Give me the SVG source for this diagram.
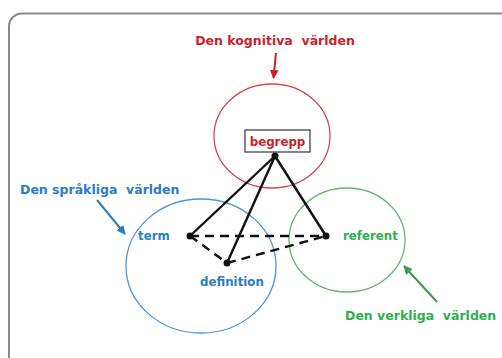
<svg xmlns="http://www.w3.org/2000/svg" width="502" height="358" viewBox="0 0 502 358">
<defs>
<style>
text{font-family:"DejaVu Sans",Verdana,sans-serif;font-weight:bold;font-size:11.8px}
.title{font-size:12.5px}
.red{fill:#cc1f2b}
.blue{fill:#2b7cc6}
.green{fill:#2fb04e}
.solid{stroke:#111;stroke-width:2.4;fill:none}
.dash{stroke:#111;stroke-width:2.4;fill:none;stroke-dasharray:9,6}
.dot{fill:#111}
</style>
<marker id="arR" viewBox="0 0 10 10" refX="9" refY="5" markerWidth="4.5" markerHeight="4.5" orient="auto"><path d="M0,0 L10,5 L0,10 z" fill="#cc1f2b"/></marker>
<marker id="arB" viewBox="0 0 10 10" refX="9" refY="5" markerWidth="4.5" markerHeight="4.5" orient="auto"><path d="M0,0 L10,5 L0,10 z" fill="#2b7cc6"/></marker>
<marker id="arG" viewBox="0 0 10 10" refX="9" refY="5" markerWidth="4.5" markerHeight="4.5" orient="auto"><path d="M0,0 L10,5 L0,10 z" fill="#3a9a48"/></marker>
</defs>
<rect x="0" y="0" width="502" height="358" fill="#fff"/>
<rect x="9" y="13.5" width="510" height="360" rx="13" fill="none" stroke="#8a8a8a" stroke-width="2"/>

<g id="kognitiva">
<ellipse cx="272" cy="136" rx="58" ry="52" fill="none" stroke="#d9474f" stroke-width="1.3"/>
<text x="275" y="45" text-anchor="middle" class="red title" xml:space="preserve">Den kognitiva  världen</text>
</g>
<g id="sprakliga">
<ellipse cx="201" cy="266" rx="75" ry="67" fill="none" stroke="#4a97d8" stroke-width="1.3"/>
<text x="20" y="194" class="blue title" xml:space="preserve">Den språkliga  världen</text>
</g>
<g id="verkliga">
<ellipse cx="347" cy="240" rx="58" ry="52" fill="none" stroke="#64b66c" stroke-width="1.3"/>
<text x="345" y="320" class="green title" xml:space="preserve">Den verkliga  världen</text>
</g>
<g id="begrepp">
<rect x="245" y="130" width="65" height="22" fill="#fff" stroke="#333" stroke-width="1.2"/>
<text x="277.5" y="146" text-anchor="middle" class="red">begrepp</text>
</g>
<g id="term"><text x="138" y="240" class="blue">term</text></g>
<g id="definition"><text x="200" y="286" class="blue">definition</text></g>
<g id="referent"><text x="343" y="240" class="green">referent</text></g>

<g id="connectors">
<line x1="275" y1="156" x2="190" y2="236" class="solid"/>
<line x1="275" y1="156" x2="227" y2="263" class="solid"/>
<line x1="275" y1="156" x2="326" y2="236" class="solid"/>
<line x1="190" y1="236" x2="326" y2="236" class="dash"/>
<line x1="190" y1="236" x2="227" y2="263" class="dash"/>
<line x1="227" y1="263" x2="326" y2="236" class="dash"/>
<circle cx="275" cy="156" r="3.5" class="dot"/>
<circle cx="190" cy="236" r="3.5" class="dot"/>
<circle cx="227" cy="263" r="3.5" class="dot"/>
<circle cx="326" cy="236" r="3.5" class="dot"/>
<line x1="276" y1="53" x2="273.5" y2="78" stroke="#cc1f2b" stroke-width="2" marker-end="url(#arR)"/>
<line x1="97" y1="200" x2="125" y2="234" stroke="#2b7cc6" stroke-width="2" marker-end="url(#arB)"/>
<line x1="437" y1="302" x2="404" y2="266" stroke="#3a9a48" stroke-width="2" marker-end="url(#arG)"/>
</g>
</svg>
